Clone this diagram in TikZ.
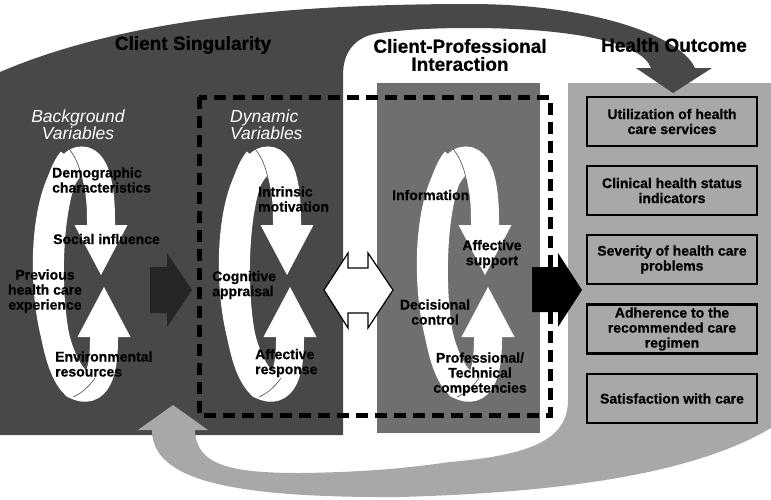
\documentclass[tikz,border=0pt]{standalone}
\usepackage{fontspec}
\setmainfont{Liberation Sans}[BoldFeatures={FakeBold=0.6}]
\usetikzlibrary{arrows.meta}

\definecolor{darkblock}{HTML}{484848}
\definecolor{midblock}{HTML}{6F6F6F}
\definecolor{lightblock}{HTML}{A8A8A8}
\definecolor{darkarrow}{HTML}{262626}

\tikzset{
	loopband/.style={white, line width=28pt, -{Triangle[width=53pt, length=50pt, line width=0pt]}},
	seam/.style={draw=black!70, line width=0.6pt},
	lbl/.style={inner sep=0pt, font=\bfseries\fontsize{14}{15}\selectfont},
	hdr/.style={inner sep=0pt, text=white, align=center, font=\itshape\fontsize{17.5}{16}\selectfont},
	ttl/.style={inner sep=0pt, align=center, font=\bfseries\fontsize{19}{18}\selectfont},
	outbox/.style={draw, line width=2.2pt, fill=lightblock, minimum width=170pt, minimum height=49pt, inner sep=0pt, align=center, font=\bfseries\fontsize{14}{15}\selectfont}
}

\newcommand{\cycleloop}[1]{%
	\begin{scope}[xshift=#1]
		\draw[loopband] (80,384) .. controls (38,350) and (35,190) .. (76,162) .. controls (93,154) and (101,180) .. (101,220) -- (101,275);
		\draw[loopband] (72,160) .. controls (42,195) and (42,355) .. (75,385) .. controls (97,396) and (104,372) .. (104,340) -- (104,287);
		\draw[seam] (69,149) .. controls (76,157) and (81,170) .. (83,184);
		\draw[seam] (95,378) .. controls (88,388) and (80,394) .. (73,397);
	\end{scope}}

\begin{document}
\begin{tikzpicture}[x=1pt, y=-1pt]
		\useasboundingbox (0,0) rectangle (771,499);
		\fill[lightblock] (568,83) -- (771,83) -- (771,428) .. controls (700,470) and (580,492) .. (400,497) .. controls (230,498) and (152,480) .. (152,430) -- (138,430) -- (173,405) -- (208,430) -- (195,430) .. controls (196,465) and (230,473) .. (300,473) .. controls (380,472) and (420,466) .. (450,462) .. controls (530,455) and (568,440) .. (568,400) -- cycle;
		\fill[midblock] (377,83) rectangle (540,433);
		\fill[darkblock] (0,435) -- (0,72) .. controls (110,25) and (260,4) .. (470,4) .. controls (590,4) and (680,35) .. (695,68) -- (712,68) -- (673,93) -- (636,68) -- (651,68) .. controls (642,42) and (570,28) .. (470,28) .. controls (420,28) and (395,31) .. (380,33) .. controls (355,36) and (343,52) .. (343,75) -- (343,435) -- cycle;
		\fill[lightblock] (152,436) -- (152,430) -- (138,430) -- (173,405) -- (208,430) -- (195,430) -- (195,436) -- cycle;
		\draw[line width=5pt, dash pattern=on 12pt off 7pt] (199,97) rectangle (550,415);

		\cycleloop{0pt}
		\cycleloop{186pt}
		\cycleloop{384pt}

		\fill[darkarrow] (150,267) -- (167,267) -- (167,253) -- (192,290) -- (167,327) -- (167,313) -- (150,313) -- cycle;
		\filldraw[fill=white, draw=black, line width=1.2pt] (324,290) -- (348,253) -- (348,268) -- (368,268) -- (368,253) -- (393,290) -- (368,328) -- (368,313) -- (348,313) -- (348,328) -- cycle;
		\fill[black] (532,267) -- (558,267) -- (558,253) -- (582,290) -- (558,327) -- (558,312) -- (532,312) -- cycle;

		\node[ttl] (singularity) at (193,45) {Client Singularity};
		\node[ttl] (interaction) at (460,55) {Client-Professional\\Interaction};
		\node[ttl] (outcome) at (674,45) {Health Outcome};

		\node[hdr] (background) at (78,125) {Background\\Variables};
		\node[lbl, anchor=west, align=left] (demographic) at (52,180) {Demographic\\characteristics};
		\node[lbl, anchor=west] (social) at (53,239) {Social influence};
		\node[lbl, align=center] (previous) at (45,291) {Previous\\health care\\experience};
		\node[lbl, anchor=west, align=left] (environmental) at (55,364) {Environmental\\resources};

		\node[hdr, anchor=west, align=left] (dynamic) at (230,125) {Dynamic\\Variables};
		\node[lbl, anchor=west, align=left] (intrinsic) at (258,199) {Intrinsic\\motivation};
		\node[lbl, anchor=west, align=left] (cognitive) at (212,285) {Cognitive\\appraisal};
		\node[lbl, anchor=west, align=left] (response) at (255,363) {Affective\\response};

		\node[lbl, anchor=west] (information) at (392,195) {Information};
		\node[lbl, align=center] (support) at (492,254) {Affective\\support};
		\node[lbl, align=center] (decisional) at (435,312) {Decisional\\control};
		\node[lbl, align=center] (competencies) at (480,374) {Professional/\\Technical\\competencies};

		\node[outbox] (utilization) at (672,121.5) {Utilization of health\\care services};
		\node[outbox] (clinical) at (672,190.5) {Clinical health status\\indicators};
		\node[outbox] (severity) at (672,259.5) {Severity of health care\\problems};
		\node[outbox] (adherence) at (672,329) {Adherence to the\\recommended care\\regimen};
		\node[outbox] (satisfaction) at (672,398.5) {Satisfaction with care};
\end{tikzpicture}
\end{document}
